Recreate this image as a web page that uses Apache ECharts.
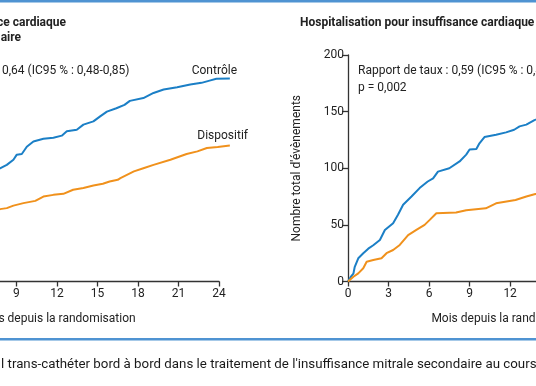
<!DOCTYPE html>
<html><head><meta charset="utf-8">
<script src="https://cdn.jsdelivr.net/npm/echarts@6/dist/echarts.min.js"></script>
<style>html,body{margin:0;padding:0;background:#fff}#c{width:536px;height:386px}</style>
</head><body><div id="c"></div>
<script>
// ---- data ----
const xTicks = [0, 3, 6, 9, 12, 15, 18, 21, 24];
const yTicks = [0, 50, 100, 150, 200];
const leftControlMonths = [0, 2, 4, 6, 7.79, 8.29, 8.78, 9.03, 9.4, 9.77, 10.26, 11.0, 11.74, 12.36, 12.73, 13.47, 13.96, 14.7, 15.2, 15.7, 16.4, 17.0, 17.4, 18.4, 19.15, 19.9, 20.9, 21.87, 22.7, 23.3, 23.8, 24.8];
const leftControlValues = [0, 30, 58, 82, 100, 103, 107.5, 112, 112.6, 119, 123.7, 126, 127, 128.8, 132.6, 134, 138.5, 141.4, 145.8, 150, 153, 156, 159.5, 162, 166.5, 169.5, 171.5, 174, 175.4, 177.4, 179, 179.2];
const leftDeviceMonths = [0, 2, 4, 6, 7.79, 8.29, 8.78, 9.52, 10.4, 11.0, 11.74, 12.48, 13.2, 13.96, 14.7, 15.4, 15.9, 16.5, 16.7, 17.7, 18.4, 19.15, 20.4, 21.6, 22.4, 23.1, 23.9, 24.8];
const leftDeviceValues = [0, 22, 40, 54, 63.9, 64.8, 67, 69.2, 71.2, 75, 76.5, 77.4, 81, 82.5, 84.8, 86.3, 88.3, 89.8, 91.3, 97.2, 100, 103, 107.5, 112.6, 114.9, 117.9, 118.8, 120];
const rightControlMonths = [0, 0.2, 0.4, 0.5, 0.76, 1.13, 1.5, 1.87, 2.36, 2.73, 3.34, 3.7, 4.08, 4.7, 5.3, 5.9, 6.3, 6.66, 7.5, 8.26, 8.75, 9.0, 9.5, 9.73, 10.1, 10.96, 11.7, 12.3, 12.7, 13.2, 13.8, 16, 20, 24];
const rightControlValues = [0, 4, 7, 13, 20.5, 25, 29, 32, 36.7, 45.5, 51.5, 59, 67.7, 75, 82.5, 88.3, 91, 97, 100, 106, 112, 116.5, 117, 122, 127.5, 129.5, 131.7, 134, 137, 138.5, 142.5, 152, 168, 182];
const rightDeviceMonths = [0, 0.4, 0.76, 1.13, 1.38, 1.87, 2.48, 2.85, 3.34, 3.83, 4.45, 5.06, 5.67, 6.05, 6.54, 8.0, 8.75, 10.2, 10.96, 12.4, 13.2, 13.8, 16, 20, 24];
const rightDeviceValues = [0, 4.2, 7.2, 11.7, 17.5, 19, 20.5, 25, 27.8, 32.3, 41, 45.5, 50, 54.4, 60.3, 61, 63, 64.6, 69, 72, 75, 77, 84, 98, 110];
const leftTitleLines = ["Décès ou hospitalisation pour insuffisance cardiaque", "Critère d'évaluation primaire"];
const rightTitle = "Hospitalisation pour insuffisance cardiaque récurrente";
const leftStat = ["Rapport de taux : 0,64 (IC95 % : 0,48-0,85)", "p = 0,002"];
const rightStat = ["Rapport de taux : 0,59 (IC95 % : 0,42-0,82)", "p = 0,002"];
const seriesNames = ["Contrôle", "Dispositif"];
const xName = "Mois depuis la randomisation";
const yName = "Nombre total d'évènements";
const footer = "l trans-cathéter bord à bord dans le traitement de l'insuffisance mitrale secondaire au cours de l'insuffisance cardiaque";

const zip = (a, b) => a.map((m, i) => [m, b[i]]);
const FONT = 'Roboto';
const BLUE = '#1b7fc6', ORANGE = '#f0911c', AX = '#333';
const PX_PER_MONTH = 13.51;
const X_MAX = 24, X_DATA_MAX = 26;

function xAxis(gi) {
  return {gridIndex: gi, type: 'value', min: 0, max: X_MAX, interval: 3,
    name: xName, nameLocation: 'middle', nameGap: 31,
    nameTextStyle: {fontFamily: FONT, fontSize: 12, color: '#222'},
    axisLine: {lineStyle: {color: AX, width: 1.3}},
    axisTick: {length: 5, lineStyle: {color: AX, width: 1.3}},
    axisLabel: {fontFamily: FONT, fontSize: 12, color: '#222', margin: 6},
    splitLine: {show: false}};
}
function yAxis(gi) {
  return {gridIndex: gi, type: 'value', min: 0, max: 200, interval: 50,
    name: yName, nameLocation: 'middle', nameGap: 45, nameRotate: 90,
    nameTextStyle: {fontFamily: FONT, fontSize: 12, color: '#222'},
    axisLine: {show: true, lineStyle: {color: AX, width: 1.3}},
    axisTick: {show: true, length: 6, lineStyle: {color: AX, width: 1.3}},
    axisLabel: {fontFamily: FONT, fontSize: 12, color: '#222', margin: 4},
    splitLine: {show: false}};
}
// hidden data axes spanning a slightly longer range (curves run past the last tick)
function hiddenX(gi) { return {gridIndex: gi, type: 'value', min: 0, max: X_DATA_MAX, show: false}; }
function hiddenY(gi) { return {gridIndex: gi, type: 'value', min: 0, max: 200, show: false}; }
function line(name, ai, data, color) {
  return {name, type: 'line', xAxisIndex: ai, yAxisIndex: ai, data, showSymbol: false,
    clip: false, lineStyle: {color, width: 2}, itemStyle: {color}, animation: false};
}
function txt(x, y, text, opts) {
  return {type: 'text', x, y, style: Object.assign({text, fontFamily: FONT, fontSize: 12, fill: '#222', textVerticalAlign: 'middle', verticalAlign: 'middle'}, opts || {})};
}

const L0 = -105.2, L1 = 348;
const chart = echarts.init(document.getElementById('c'), null, {renderer: 'canvas'});
chart.setOption({
  animation: false,
  grid: [
    {left: L0, width: PX_PER_MONTH * X_MAX, top: 55, height: 226.5, containLabel: false, outerBoundsMode: 'none'},
    {left: L1, width: PX_PER_MONTH * X_MAX, top: 55, height: 226.5, containLabel: false, outerBoundsMode: 'none'},
    {left: L0, width: PX_PER_MONTH * X_DATA_MAX, top: 55, height: 226.5, containLabel: false, outerBoundsMode: 'none'},
    {left: L1, width: PX_PER_MONTH * X_DATA_MAX, top: 55, height: 226.5, containLabel: false, outerBoundsMode: 'none'}
  ],
  xAxis: [xAxis(0), xAxis(1), hiddenX(2), hiddenX(3)],
  yAxis: [yAxis(0), yAxis(1), hiddenY(2), hiddenY(3)],
  series: [
    line(seriesNames[0], 2, zip(leftControlMonths, leftControlValues), BLUE),
    line(seriesNames[1], 2, zip(leftDeviceMonths, leftDeviceValues), ORANGE),
    line(seriesNames[0], 3, zip(rightControlMonths, rightControlValues), BLUE),
    line(seriesNames[1], 3, zip(rightDeviceMonths, rightDeviceValues), ORANGE)
  ],
  graphic: [
    {type: 'rect', shape: {x: 0, y: 0, width: 536, height: 2.5}, style: {fill: '#4f93d2'}},
    {type: 'rect', shape: {x: 0, y: 338, width: 536, height: 2.5}, style: {fill: '#4f93d2'}},
    txt(66, 23, leftTitleLines[0], {fontWeight: 'bold', align: 'right', textAlign: 'right'}),
    txt(21, 38, leftTitleLines[1], {fontWeight: 'bold', align: 'right', textAlign: 'right'}),
    txt(300, 23, rightTitle, {fontWeight: 'bold'}),
    txt(-91.5, 71, leftStat[0]),
    txt(-91.5, 88, leftStat[1]),
    txt(358, 71, rightStat[0]),
    txt(358, 88, rightStat[1]),
    txt(237, 71, seriesNames[0], {align: 'right', textAlign: 'right'}),
    txt(248, 136, seriesNames[1], {align: 'right', textAlign: 'right'}),
    txt(1, 365, footer, {fontSize: 13.3, fill: '#1a1a1a'})
  ]
});
</script></body></html>
